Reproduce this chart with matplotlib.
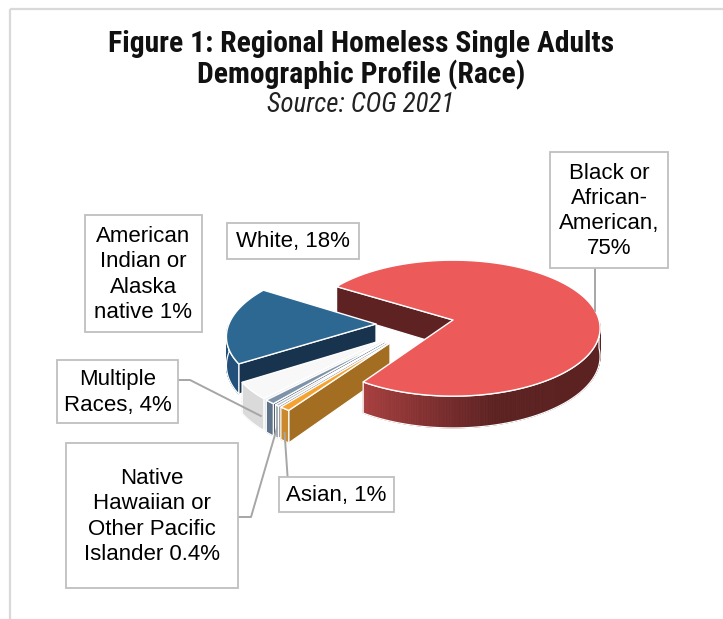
import numpy as np
import matplotlib
matplotlib.use("Agg")
import matplotlib.pyplot as plt
from matplotlib.patches import Polygon, Rectangle
from matplotlib.colors import to_rgb
from matplotlib import font_manager

# ---- data -------------------------------------------------------------
categories = ["White", "Multiple Races", "American Indian or Alaska native",
              "Native Hawaiian or Other Pacific Islander", "Asian",
              "Black or African-American"]
shares = [18, 4, 1, 0.4, 1, 75]
label_texts = ["White, 18%",
               "Multiple\nRaces, 4%",
               "American\nIndian or\nAlaska\nnative 1%",
               "Native\nHawaiian or\nOther Pacific\nIslander 0.4%",
               "Asian, 1%",
               "Black or\nAfrican-\nAmerican,\n75%"]
title_lines = ["Figure 1: Regional Homeless Single Adults",
               "Demographic Profile (Race)"]
subtitle = "Source: COG 2021"

# ---- styling ----------------------------------------------------------
top_colors = ["#2D6892", "#F8F8F8", "#7E93A8", "#B4BCC4", "#F4A232", "#EC5A5A"]
wall_light = ["#22507A", "#DADADA", "#5E738A", "#9AA3AD", "#CB8A2E", "#A83F3F"]
wall_dark = ["#1A3D5E", "#C4C4C4", "#4A5C70", "#808890", "#A36E22", "#5C2121"]
face_colors = ["#17334D", "#EDEDED", "#3E4F60", "#7D8690", "#A36E22", "#5E2222"]
explode = [0.527, 0.545, 0.54, 0.535, 0.529, 0.0]
explode_dir = [186.5, 212.0, 214.5, 216.5, 218.4, 0.0]
start_angle = 148.0

# projection of the tilted pie (pixel space of the canvas)
CX, CY = 453.0, 320.0
A, B, K, D = 146.0, 67.0, 0.12, 28.0

installed = {f.name for f in font_manager.fontManager.ttflist}


def pick(prefs):
    for p in prefs:
        if p in installed:
            return p
    return "DejaVu Sans"


title_font = pick(["Roboto Condensed", "Archivo Narrow", "PT Sans Narrow",
                   "Fira Sans Condensed", "Encode Sans Condensed",
                   "Asap Condensed", "Liberation Sans Narrow"])
label_font = pick(["Liberation Sans", "Arimo", "Roboto"])

W, H = 723, 619
fig = plt.figure(figsize=(W / 100, H / 100), dpi=100)
ax = fig.add_axes([0, 0, 1, 1])
ax.set_xlim(0, W)
ax.set_ylim(H, 0)
ax.axis("off")
renderer = fig.canvas.get_renderer()


def fit_size(text, width_px, base, **kw):
    t = ax.text(0, 0, text, fontsize=base, **kw)
    w = t.get_window_extent(renderer=renderer).width
    t.remove()
    return base * width_px / w


# ---- geometry ---------------------------------------------------------
vals = np.array(shares, dtype=float)
spans = vals / vals.sum() * 360.0
a_start = start_angle + np.concatenate([[0], np.cumsum(spans)[:-1]])
a_end = a_start + spans
off_u = [e * np.cos(np.radians(d)) for e, d in zip(explode, explode_dir)]
off_v = [e * np.sin(np.radians(d)) for e, d in zip(explode, explode_dir)]


def proj(u, v, z=0.0):
    den = 1 + K * v
    return CX + A * u / den, CY - B * v / den + z * D / den


def slice_pt(i, t_deg, r=1.0, z=0.0):
    t = np.radians(t_deg)
    return proj(off_u[i] + r * np.cos(t), off_v[i] + r * np.sin(t), z)


def mix(c1, c2, f):
    a, b = np.array(to_rgb(c1)), np.array(to_rgb(c2))
    return tuple(b + f * (a - b))


def draw_faces(i):
    a0, a1 = a_start[i], a_end[i]
    for a, vis in ((a0, np.cos(np.radians(a0)) > 0), (a1, np.cos(np.radians(a1)) < 0)):
        if vis:
            pts = [slice_pt(i, a, 0, 0), slice_pt(i, a, 1, 0),
                   slice_pt(i, a, 1, 1), slice_pt(i, a, 0, 1)]
            ax.add_patch(Polygon(pts, closed=True, facecolor=face_colors[i],
                                 edgecolor="white", lw=0.9, joinstyle="round"))


def draw_wall_and_top(i):
    a0, a1 = a_start[i], a_end[i]
    for k in range(-2, 3):
        lo, hi = max(a0, 180 + 360 * k), min(a1, 360 + 360 * k)
        if hi <= lo:
            continue
        ts = np.linspace(lo, hi, max(3, int((hi - lo) * 2)))
        for t0, t1 in zip(ts[:-1], ts[1:]):
            tm = ((t0 + t1) / 2) % 360
            f = np.clip((285 - tm) / 48, 0, 1)
            col = mix(wall_light[i], wall_dark[i], f)
            quad = [slice_pt(i, t0, 1, 0), slice_pt(i, t1, 1, 0),
                    slice_pt(i, t1, 1, 1), slice_pt(i, t0, 1, 1)]
            ax.add_patch(Polygon(quad, closed=True, facecolor=col,
                                 edgecolor=col, lw=0.6))
        outline = [slice_pt(i, t, 1, 0) for t in ts] + \
                  [slice_pt(i, t, 1, 1) for t in ts[::-1]]
        ax.add_patch(Polygon(outline, closed=True, facecolor="none",
                             edgecolor="white", lw=0.9, joinstyle="round"))
    arc = np.linspace(a0, a1, max(4, int(spans[i] * 2)))
    top = [slice_pt(i, 0, 0, 0)] + [slice_pt(i, t, 1, 0) for t in arc]
    ax.add_patch(Polygon(top, closed=True, facecolor=top_colors[i],
                         edgecolor="white", lw=1.0, joinstyle="round"))


big = len(shares) - 1
draw_faces(big)
for i in range(big):
    draw_faces(i)
    draw_wall_and_top(i)
draw_wall_and_top(big)

# ---- frame ------------------------------------------------------------
ax.plot([10, W], [9, 9], color="#D9D9D9", lw=1.6, solid_capstyle="butt")
ax.plot([10, 10], [9, H], color="#D9D9D9", lw=1.6, solid_capstyle="butt")

# ---- titles -----------------------------------------------------------
tkw = dict(family=title_font, fontweight="bold")
tsize = fit_size(title_lines[0], 505, 19, **tkw)
ax.text(361, 44, title_lines[0], ha="center", va="center", fontsize=tsize,
        color="#111111", **tkw)
ax.text(361, 75, title_lines[1], ha="center", va="center", fontsize=tsize,
        color="#111111", **tkw)
skw = dict(family=title_font, style="italic")
ssize = fit_size(subtitle, 188, 15, **skw)
ax.text(361, 105, subtitle, ha="center", va="center", fontsize=ssize,
        color="#222222", **skw)

# ---- data labels -------------------------------------------------------
# (box left, top, right, bottom) per category
boxes = [(227, 223, 359, 259),
         (57, 360, 178, 423),
         (85, 215, 202, 332),
         (66, 443, 238, 588),
         (279, 477, 394, 512),
         (550, 152, 668, 268)]
lsize = min(16.5, fit_size("American,", 100, 15.5, family=label_font))
line_col = "#A6A6A6"
for txt, (x0, y0, x1, y1) in zip(label_texts, boxes):
    ax.add_patch(Rectangle((x0, y0), x1 - x0, y1 - y0, facecolor="white",
                           edgecolor="#BFBFBF", lw=1.3, zorder=5))
    ax.text((x0 + x1) / 2, (y0 + y1) / 2 + 1, txt, ha="center", va="center",
            fontsize=lsize, family=label_font, color="black",
            linespacing=1.27, zorder=6)

# leader lines from boxes to their slices
bx, by = slice_pt(5, 8, 1, 0)
ax.plot([bx, bx], [boxes[5][3], by], color=line_col, lw=1.4, zorder=4)
mx, my = slice_pt(1, 226, 1, 0.6)
ax.plot([boxes[1][2], 190, mx], [380, 380, my], color=line_col, lw=1.4, zorder=4)
nx, ny = slice_pt(3, 232, 1, 0.7)
ax.plot([boxes[3][2], 251, nx], [517, 517, ny], color=line_col, lw=1.4, zorder=4)
sx, sy = slice_pt(4, 234.5, 1, 0.75)
ax.plot([sx + 3, sx], [boxes[4][1], sy], color=line_col, lw=1.4, zorder=4)

fig.savefig("out.png", dpi=100, facecolor="white")
